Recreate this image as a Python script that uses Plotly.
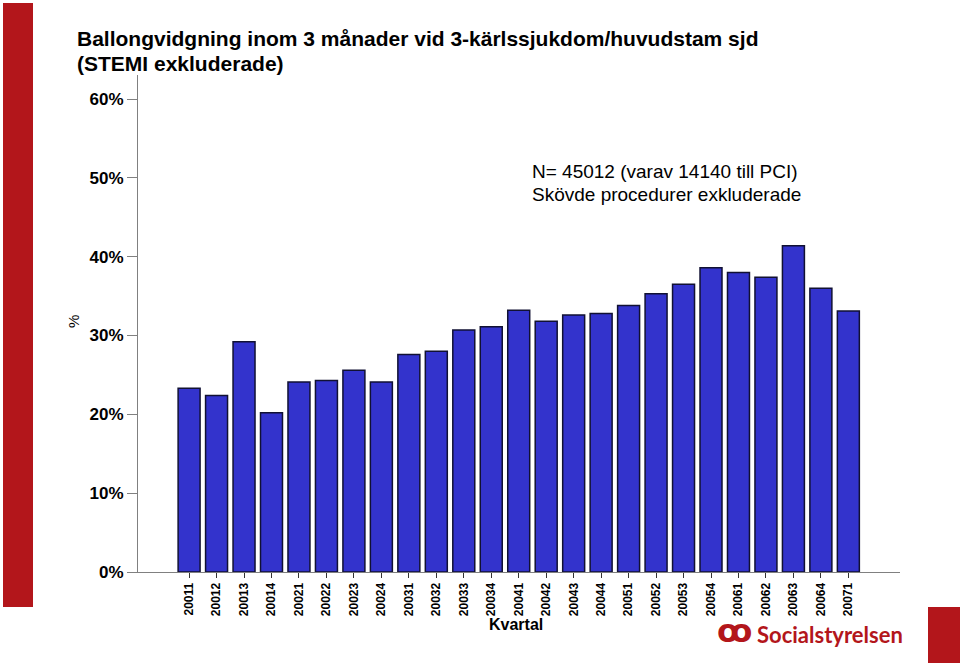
import plotly.graph_objects as go

categories = ["20011", "20012", "20013", "20014", "20021", "20022", "20023", "20024",
              "20031", "20032", "20033", "20034", "20041", "20042", "20043", "20044",
              "20051", "20052", "20053", "20054", "20061", "20062", "20063", "20064",
              "20071"]
values = [23.3, 22.4, 29.2, 20.2, 24.1, 24.3, 25.6, 24.1,
          27.6, 28.0, 30.7, 31.1, 33.2, 31.8, 32.6, 32.8,
          33.8, 35.3, 36.5, 38.6, 38.0, 37.4, 41.4, 36.0,
          33.1]
ytick_vals = [0, 10, 20, 30, 40, 50, 60]
ytick_text = ["0%", "10%", "20%", "30%", "40%", "50%", "60%"]
title_lines = ["Ballongvidgning inom 3 månader vid 3-kärlssjukdom/huvudstam sjd",
               "(STEMI exkluderade)"]
note_lines = ["N= 45012 (varav 14140 till PCI)", "Skövde procedurer exkluderade"]

FONT = "Liberation Sans, Arial, sans-serif"
RED = "#b3161b"

# plot area in pixels: x 138..900, y 75..572
L, R, T, B = 138, 60, 75, 95
PW, PH = 960 - L - R, 667 - T - B

def px(x):
    return (x - L) / PW

def py(y):
    return (667 - B - y) / PH

fig = go.Figure(go.Bar(
    x=list(range(len(categories))),
    y=values,
    marker=dict(color="#3333cc", line=dict(color="#111133", width=1.5)),
    width=0.8,
))

annotations = []
for line, yc in zip(title_lines, [39, 63]):
    annotations.append(dict(
        text=line, xref="paper", yref="paper", x=px(76), y=py(yc),
        xanchor="left", yanchor="middle", showarrow=False, borderpad=0,
        font=dict(family=FONT, size=21, color="black", weight="bold")))
for line, yc in zip(note_lines, [172, 194]):
    annotations.append(dict(
        text=line, xref="paper", yref="paper", x=px(531), y=py(yc),
        xanchor="left", yanchor="middle", showarrow=False, borderpad=0,
        font=dict(family=FONT, size=19, color="black")))
annotations += [
    dict(text="%", xref="paper", yref="paper", x=px(73), y=py(322),
         textangle=-90, showarrow=False, xanchor="center", yanchor="middle",
         font=dict(family=FONT, size=15, color="black")),
    dict(text="Kvartal", xref="paper", yref="paper", x=px(516), y=py(624),
         showarrow=False, xanchor="center", yanchor="middle",
         font=dict(family=FONT, size=16, color="black", weight="bold")),
    dict(text="Socialstyrelsen", xref="paper", yref="paper", x=px(755), y=py(634),
         showarrow=False, xanchor="left", yanchor="middle",
         font=dict(family="Lato, Open Sans, sans-serif", size=22, color=RED, weight="bold")),
    dict(text="ꝏ", xref="paper", yref="paper", x=px(734), y=py(631),
         showarrow=False, xanchor="center", yanchor="middle",
         font=dict(family="DejaVu Sans, sans-serif", size=32, color=RED, weight="bold")),
]

fig.update_layout(
    width=960, height=667,
    margin=dict(l=L, r=R, t=T, b=B),
    paper_bgcolor="white", plot_bgcolor="white",
    showlegend=False,
    font=dict(family=FONT, color="black"),
    xaxis=dict(
        range=[-1.86, 25.88],
        tickmode="array",
        tickvals=list(range(len(categories))),
        ticktext=categories,
        tickangle=-90,
        tickfont=dict(family=FONT, size=12, color="black", weight="bold"),
        ticks="outside", ticklen=5, tickcolor="#333333", tickwidth=1,
        showline=True, linecolor="#808080", linewidth=1,
        showgrid=False, zeroline=False,
    ),
    yaxis=dict(
        range=[0, 63.05],
        tickmode="array",
        tickvals=ytick_vals,
        ticktext=ytick_text,
        tickfont=dict(family=FONT, size=17, color="black", weight="bold"),
        ticks="outside", ticklen=10, tickcolor="#808080", tickwidth=1,
        showline=True, linecolor="#808080", linewidth=1,
        showgrid=False, zeroline=False,
    ),
    annotations=annotations,
    shapes=[
        dict(type="rect", xref="paper", yref="paper",
             x0=px(3), x1=px(33), y0=py(607), y1=py(3),
             fillcolor=RED, line=dict(width=0), layer="below"),
        dict(type="rect", xref="paper", yref="paper",
             x0=px(928), x1=px(960), y0=py(663), y1=py(607),
             fillcolor=RED, line=dict(width=0), layer="below"),
    ],
)

fig.write_html("out.html")
